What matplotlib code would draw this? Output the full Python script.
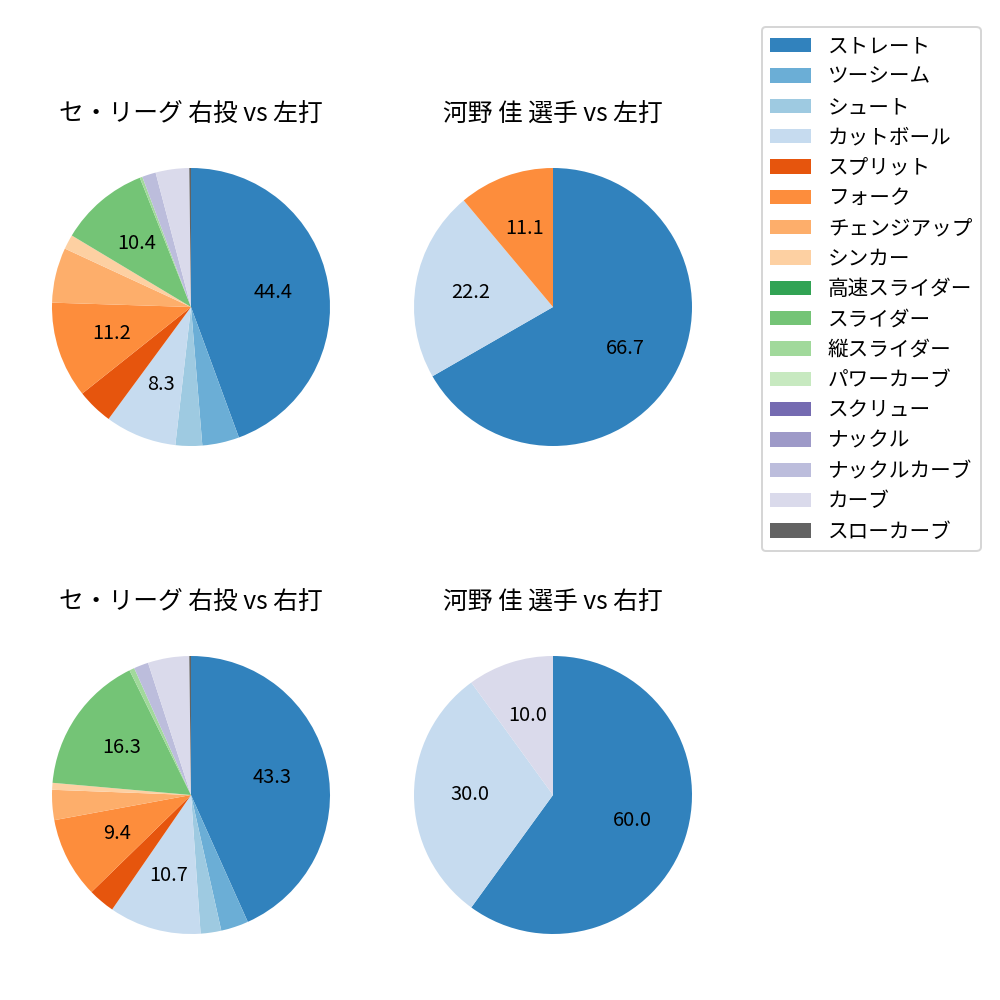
import matplotlib
matplotlib.use("Agg")
import matplotlib.pyplot as plt
from matplotlib.patches import Patch

plt.rcParams['font.family'] = ['Noto Sans CJK JP', 'DejaVu Sans']

pitch_types = ['ストレート', 'ツーシーム', 'シュート', 'カットボール', 'スプリット', 'フォーク',
               'チェンジアップ', 'シンカー', '高速スライダー', 'スライダー', '縦スライダー',
               'パワーカーブ', 'スクリュー', 'ナックル', 'ナックルカーブ', 'カーブ', 'スローカーブ']

league_vs_left = [44.4, 4.3, 3.1, 8.3, 4.2, 11.2, 6.4, 1.7, 0.0, 10.4, 0.3, 0.0, 0.0, 0.0, 1.6, 3.9, 0.2]
player_vs_left = [66.7, 0.0, 0.0, 22.2, 0.0, 11.1, 0.0, 0.0, 0.0, 0.0, 0.0, 0.0, 0.0, 0.0, 0.0, 0.0, 0.0]
league_vs_right = [43.3, 3.2, 2.4, 10.7, 3.1, 9.4, 3.5, 0.8, 0.0, 16.3, 0.6, 0.0, 0.0, 0.0, 1.7, 4.8, 0.2]
player_vs_right = [60.0, 0.0, 0.0, 30.0, 0.0, 0.0, 0.0, 0.0, 0.0, 0.0, 0.0, 0.0, 0.0, 0.0, 0.0, 10.0, 0.0]

titles = ['セ・リーグ 右投 vs 左打', '河野 佳 選手 vs 左打', 'セ・リーグ 右投 vs 右打', '河野 佳 選手 vs 右打']
series = [league_vs_left, player_vs_left, league_vs_right, player_vs_right]

cmap = plt.get_cmap('tab20c')
colors = [cmap(i) for i in range(len(pitch_types))]

fig = plt.figure(figsize=(1000 / 144, 1000 / 144), dpi=144)

# pie centres in pixels (x, y from top), radius in pixels
centres = [(191, 307), (553, 307), (191, 795), (553, 795)]
radius_px = 139
size = radius_px * 2.5 / 1000

def fmt(p):
    return f'{p:.1f}' if p >= 7 else ''

for (cx, cy), vals, title in zip(centres, series, titles):
    ax = fig.add_axes([cx / 1000 - size / 2, 1 - cy / 1000 - size / 2, size, size])
    ax.pie(vals, colors=colors, startangle=90, counterclock=False, autopct=fmt,
           textprops={'fontsize': 10})
    ax.set_title(title, fontsize=12.4)

handles = [Patch(facecolor=c) for c in colors]
fig.legend(handles, pitch_types, loc='upper left', bbox_to_anchor=(0.762, 0.973),
           borderaxespad=0, fontsize=10.3, labelspacing=0.405)

fig.savefig('out.png', dpi=144)
